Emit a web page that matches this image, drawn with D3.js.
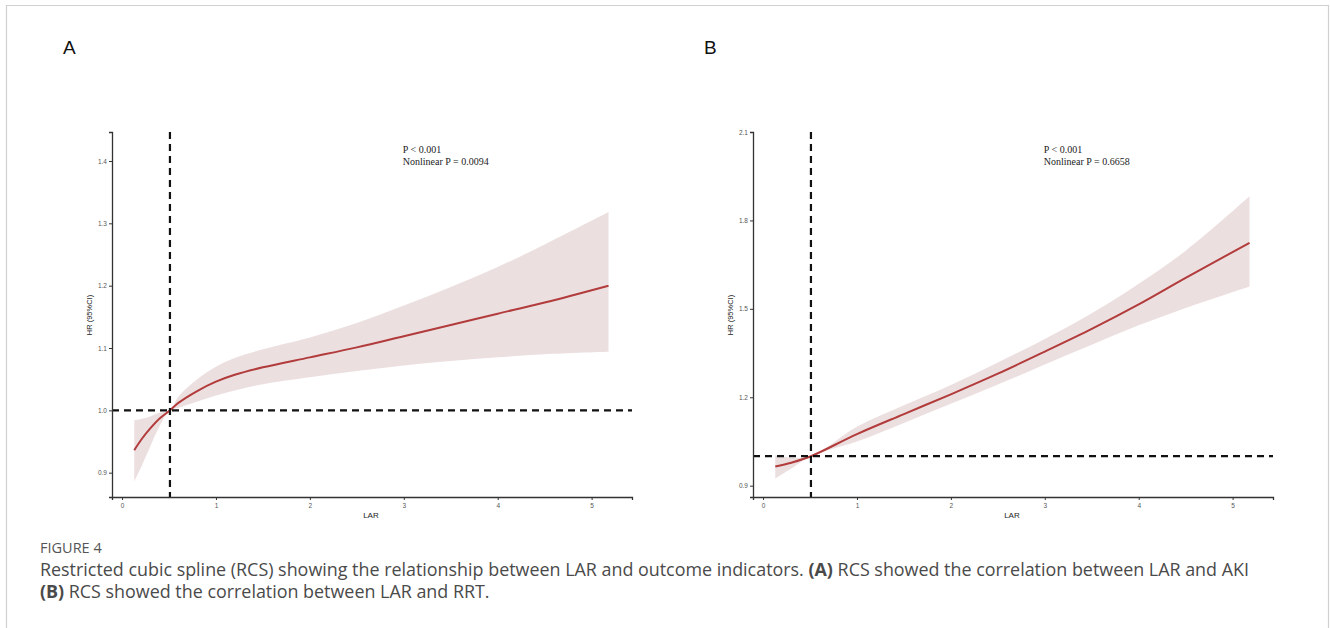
<!DOCTYPE html>
<html>
<head>
<meta charset="utf-8">
<script src="https://cdn.jsdelivr.net/npm/d3@7"></script>
<style>
  body { margin: 0; background: #fff; }
  svg { display: block; }
</style>
</head>
<body>
<div id="chart"></div>
<script>
// panel A: LAR vs AKI
var larA = [0.13, 0.2, 0.3, 0.4, 0.51, 0.6, 0.8, 1.0, 1.2, 1.5, 2.0, 2.5, 3.0, 3.5, 4.0, 4.5, 5.18];
var hrA  = [0.936, 0.952, 0.971, 0.987, 1.0, 1.012, 1.031, 1.046, 1.057, 1.069, 1.085, 1.101, 1.119, 1.137, 1.155, 1.173, 1.200];
var loA  = [0.886, 0.908, 0.942, 0.975, 1.0, 1.004, 1.014, 1.024, 1.032, 1.042, 1.053, 1.063, 1.072, 1.079, 1.085, 1.090, 1.094];
var hiA  = [0.984, 0.986, 0.990, 0.996, 1.0, 1.022, 1.050, 1.070, 1.084, 1.098, 1.117, 1.140, 1.168, 1.198, 1.230, 1.266, 1.318];

// panel B: LAR vs RRT
var larB = [0.13, 0.3, 0.51, 1.0, 1.5, 2.0, 2.5, 3.0, 3.5, 4.0, 4.5, 5.18];
var hrB  = [0.965, 0.978, 1.0, 1.075, 1.143, 1.21, 1.28, 1.355, 1.432, 1.515, 1.605, 1.724];
var loB  = [0.924, 0.958, 1.0, 1.050, 1.113, 1.178, 1.243, 1.311, 1.378, 1.444, 1.503, 1.576];
var hiB  = [1.002, 0.995, 1.0, 1.100, 1.173, 1.242, 1.318, 1.398, 1.485, 1.585, 1.697, 1.882];

var xTicks = [0, 1, 2, 3, 4, 5];
var yTicksA = [0.9, 1.0, 1.1, 1.2, 1.3, 1.4];
var yTicksB = [0.9, 1.2, 1.5, 1.8, 2.1];
var refLAR = 0.51;

var svg = d3.select("#chart").append("svg")
    .attr("width", 1330)
    .attr("height", 628);

// page frame
svg.append("path")
    .attr("d", "M6.5,640 V5.5 H1328.5 V640")
    .attr("fill", "none")
    .attr("stroke", "#d0d0d0")
    .attr("stroke-width", 1.2);

function drawPanel(opt) {
    var x = d3.scaleLinear().domain([-0.107, 5.43]).range([opt.left, opt.left + 520]);
    var y = d3.scaleLinear().domain(opt.yDomain).range([497, 132]);

    var g = svg.append("g");

    g.append("text")
        .attr("x", opt.left - 49)
        .attr("y", 54)
        .attr("font-family", "Liberation Sans, Arial, sans-serif")
        .attr("font-size", 19)
        .attr("fill", "#111")
        .text(opt.label);

    var pts = opt.lar.map(function(v, i) {
        return {x: v, hr: opt.hr[i], lo: opt.lo[i], hi: opt.hi[i]};
    });

    var area = d3.area()
        .curve(d3.curveCatmullRom.alpha(0.5))
        .x(function(d) { return x(d.x); })
        .y0(function(d) { return y(d.lo); })
        .y1(function(d) { return y(d.hi); });

    var line = d3.line()
        .curve(d3.curveCatmullRom.alpha(0.5))
        .x(function(d) { return x(d.x); })
        .y(function(d) { return y(d.hr); });

    g.append("path")
        .datum(pts)
        .attr("d", area)
        .attr("fill", "#ecdfe0");

    g.append("path")
        .datum(pts)
        .attr("d", line)
        .attr("fill", "none")
        .attr("stroke", "#b23b3b")
        .attr("stroke-width", 2);

    // reference lines
    g.append("line")
        .attr("x1", x(refLAR)).attr("x2", x(refLAR))
        .attr("y1", 132).attr("y2", 497)
        .attr("stroke", "#111")
        .attr("stroke-width", 2.2)
        .attr("stroke-dasharray", "7,5");

    g.append("line")
        .attr("x1", opt.left).attr("x2", opt.left + 520)
        .attr("y1", y(1)).attr("y2", y(1))
        .attr("stroke", "#111")
        .attr("stroke-width", 2.2)
        .attr("stroke-dasharray", "7,5");

    // axes
    var xAxis = g.append("g")
        .attr("transform", "translate(0,497)")
        .call(d3.axisBottom(x).tickValues(xTicks).tickSize(3).tickPadding(3).tickFormat(d3.format("d")));
    var yAxis = g.append("g")
        .attr("transform", "translate(" + opt.left + ",0)")
        .call(d3.axisLeft(y).tickValues(opt.yTicks).tickSize(3).tickPadding(2).tickFormat(d3.format(".1f")));

    [xAxis, yAxis].forEach(function(a) {
        a.select(".domain").attr("stroke", "#333").attr("stroke-width", 1.3);
        a.selectAll(".tick line").attr("stroke", "#333");
        a.selectAll(".tick text")
            .attr("fill", "#555")
            .attr("font-size", 6.5)
            .attr("font-family", "Liberation Sans, Arial, sans-serif");
    });

    g.append("text")
        .attr("transform", "translate(" + (opt.left - 20) + ",315) rotate(-90)")
        .attr("text-anchor", "middle")
        .attr("font-family", "Liberation Sans, Arial, sans-serif")
        .attr("font-size", 7.5)
        .attr("fill", "#222")
        .text("HR (95%CI)");

    g.append("text")
        .attr("x", x(2.65))
        .attr("y", 518)
        .attr("text-anchor", "middle")
        .attr("font-family", "Liberation Sans, Arial, sans-serif")
        .attr("font-size", 8)
        .attr("fill", "#222")
        .text("LAR");

    var ann = g.append("text")
        .attr("font-family", "Liberation Serif, Times New Roman, serif")
        .attr("font-size", 10)
        .attr("fill", "#222");
    ann.append("tspan").attr("x", x(2.99)).attr("y", 153).text("P < 0.001");
    ann.append("tspan").attr("x", x(2.99)).attr("y", 165).text("Nonlinear P = " + opt.pNonlin);
}

drawPanel({label: "A", left: 112, yDomain: [0.861, 1.4465], yTicks: yTicksA,
    lar: larA, hr: hrA, lo: loA, hi: hiA, pNonlin: "0.0094"});
drawPanel({label: "B", left: 753, yDomain: [0.8616, 2.1], yTicks: yTicksB,
    lar: larB, hr: hrB, lo: loB, hi: hiB, pNonlin: "0.6658"});

// caption
var cap = svg.append("g")
    .attr("font-family", "Open Sans, Noto Sans, sans-serif")
    .attr("fill", "#4a4a4a");

cap.append("text")
    .attr("x", 40).attr("y", 553)
    .attr("font-size", 14.5)
    .attr("fill", "#555")
    .text("FIGURE 4");

var l1 = cap.append("text").attr("x", 40).attr("y", 576).attr("font-size", 17.9);
l1.append("tspan").text("Restricted cubic spline (RCS) showing the relationship between LAR and outcome indicators. ");
l1.append("tspan").attr("font-weight", "bold").text("(A)");
l1.append("tspan").text(" RCS showed the correlation between LAR and AKI");

var l2 = cap.append("text").attr("x", 40).attr("y", 598).attr("font-size", 17.9);
l2.append("tspan").attr("font-weight", "bold").text("(B)");
l2.append("tspan").text(" RCS showed the correlation between LAR and RRT.");
</script>
</body>
</html>
